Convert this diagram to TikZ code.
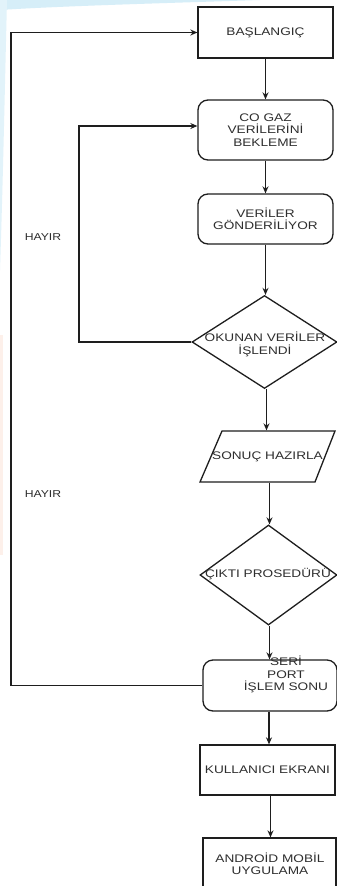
\documentclass[tikz,border=0pt]{standalone}
\usepackage{fontspec}
\setmainfont{Liberation Sans}
\newfontfamily\boxfont[FakeStretch=1.24]{Liberation Sans}
\newfontfamily\labfont[FakeStretch=1.22]{Liberation Sans}
\usetikzlibrary{arrows.meta,shapes.geometric}
\definecolor{ink}{HTML}{1E1E1E}
\definecolor{txt}{HTML}{2E2E2E}
\definecolor{swoosh}{HTML}{D6EEF8}
\definecolor{peach}{HTML}{FDF0EA}
\begin{document}
\begin{tikzpicture}[x=1pt,y=-1pt,
  line width=1.3pt,
  arr/.style={draw=ink,-{Stealth[length=7pt,width=6pt]}},
  ln/.style={draw=ink},
  boxtext/.style={text=txt,font=\boxfont\fontsize{11}{12.5}\selectfont,align=center,inner sep=0pt},
  sqbox/.style={draw=ink,rectangle,minimum width=135pt,minimum height=51pt,inner sep=0pt,
    text=txt,font=\boxfont\fontsize{11}{12.5}\selectfont,align=center},
  rbox/.style={sqbox,rounded corners=10pt},
  dia/.style={draw=ink,diamond,inner sep=0pt},
  lab/.style={text=txt,font=\labfont\fontsize{10}{11}\selectfont,inner sep=0pt}
]
\clip (0,0) rectangle (337,886);
\useasboundingbox (0,0) rectangle (337,886);
\fill[white] (0,0) rectangle (337,886);
% background decoration
\fill[swoosh] (0,0) -- (260,0) .. controls (170,3) and (60,6) .. (0,10) -- cycle;
\fill[swoosh!70] (0,0) -- (7,0) .. controls (5,80) and (3,180) .. (0,270) -- cycle;
\fill[peach] (0,335) -- (3,335) -- (3,555) -- (0,555) -- cycle;

% nodes
\node[sqbox] (b1) at (265.5,32.5) {BAŞLANGIÇ};
\node[rbox,minimum height=60pt] (b2) at (265.5,130) {CO GAZ\\VERİLERİNİ\\BEKLEME};
\node[rbox,minimum height=50pt] (b3) at (265.5,219) {VERİLER\\GÖNDERİLİYOR};
\node[dia,minimum width=145pt,minimum height=93pt] (d1) at (264.5,342) {};
\node[boxtext] (d1t) at (265,344.5) {OKUNAN VERİLER\\İŞLENDİ};
\node[inner sep=0pt,minimum width=113pt,minimum height=51pt] (p) at (268,456.5) {};
\draw[ink] (222,431) -- (335,431) -- (315,482) -- (200,482) -- cycle;
\node[boxtext] (pt) at (267.5,457) {SONUÇ HAZIRLA};
\node[dia,minimum width=137pt,minimum height=100pt] (d2) at (268.5,575) {};
\node[boxtext] (d2t) at (268,574) {ÇIKTI PROSEDÜRÜ};
\node[rbox,minimum width=134pt] (b4) at (270,685.5) {};
\node[boxtext] (b4t) at (286,674.5) {\baselineskip=11.5pt SERİ\\PORT\\İŞLEM SONU};
\node[sqbox,minimum height=50pt] (b5) at (267.5,770) {KULLANICI EKRANI};
\node[sqbox,minimum width=133pt,minimum height=56pt] (b6) at (269.5,866) {};
\node[boxtext] (b6t) at (270,864) {\baselineskip=11pt ANDROİD MOBİL\\UYGULAMA};
\node[lab] (h1) at (43,237) {HAYIR};
\node[lab] (h2) at (43,494) {HAYIR};

\coordinate (l1) at (11,0);
\coordinate (l2) at (79,0);

% connectors
\draw[arr] (b1.south) -- (b2.north);
\draw[arr] (b2.south) -- (b3.north);
\draw[arr] (b3.south) -- (b3.south |- d1.north);
\draw[arr] ([xshift=2pt]d1.south) -- ([xshift=2pt]d1.south |- p.north);
\draw[arr] ([xshift=1.5pt]p.south) -- ([xshift=1.5pt]p.south |- d2.north);
\draw[arr] ([xshift=1pt]d2.south) -- ([xshift=1pt]d2.south |- b4.north);
\draw[arr] ([xshift=-1pt]b4.south) -- ([xshift=-1pt]b4.south |- b5.north);
\draw[arr] ([xshift=3pt]b5.south) -- ([xshift=3pt]b5.south |- b6.north);
\draw[arr] (b4.west) -- (b4.west -| l1) -- (l1 |- b1.west) -- (b1.west);
\draw[arr] (d1.west) -- (d1.west -| l2) -- (l2 |- 0,126) -- (b2.west |- 0,126);
\end{tikzpicture}
\end{document}
